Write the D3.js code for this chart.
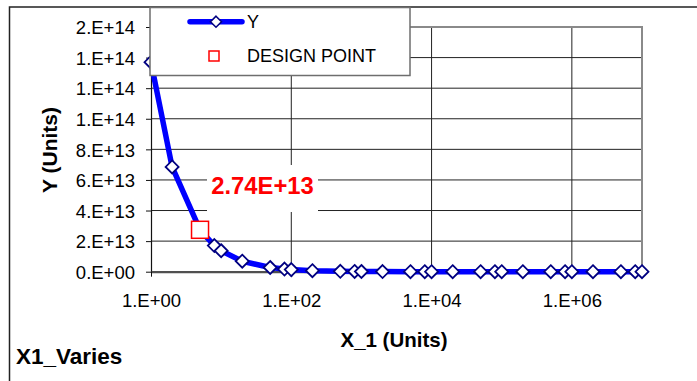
<!DOCTYPE html>
<html>
<head>
<meta charset="utf-8">
<script src="https://cdn.jsdelivr.net/npm/d3@7"></script>
<style>
  html, body { margin: 0; padding: 0; background: #fff; }
  svg { display: block; font-family: "Liberation Sans", Arial, sans-serif; }
</style>
</head>
<body>
<svg id="chart" width="697" height="381"></svg>
<script>
// X_1 sweep and the resulting Y response
const xValues = [1, 2, 5, 8, 10, 20, 50, 80, 100, 200, 500, 800,
  1e3, 2e3, 5e3, 8e3, 1e4, 2e4, 5e4, 8e4, 1e5, 2e5, 5e5, 8e5,
  1e6, 2e6, 5e6, 8e6, 1e7];
const yValues = [1.37e14, 6.85e13, 2.74e13, 1.71e13, 1.37e13, 6.85e12, 2.74e12, 1.71e12,
  1.37e12, 6.85e11, 2.74e11, 1.71e11, 1.37e11, 6.85e10, 2.74e10, 1.71e10,
  1.37e10, 6.85e9, 2.74e9, 1.71e9, 1.37e9, 6.85e8, 2.74e8, 1.71e8,
  1.37e8, 6.85e7, 2.74e7, 1.71e7, 1.37e7];

// Design point
const designX = [5];
const designY = [2.74e13];
const designLabel = ["2.74E+13"];

// Axis ticks
const xTickValues = [1, 1e2, 1e4, 1e6];
const xTickLabels = ["1.E+00", "1.E+02", "1.E+04", "1.E+06"];
const yTickValues = [0, 2e13, 4e13, 6e13, 8e13, 1e14, 1.2e14, 1.4e14, 1.6e14];
const yTickLabels = ["0.E+00", "2.E+13", "4.E+13", "6.E+13", "8.E+13", "1.E+14", "1.E+14", "1.E+14", "2.E+14"];

const seriesNames = ["Y", "DESIGN POINT"];

const svg = d3.select("#chart");
const plot = { left: 151, right: 642, top: 27, bottom: 271.7 };

const x = d3.scaleLog().domain([1, 1e7]).range([plot.left, plot.right]);
const y = d3.scaleLinear().domain([0, 1.6e14]).range([plot.bottom, plot.top]);

const font = "'Liberation Sans', Arial, sans-serif";

// outer chart frame
svg.append("rect")
  .attr("x", 9.5).attr("y", 7).attr("width", 700).attr("height", 400)
  .attr("fill", "#fff").attr("stroke", "#222").attr("stroke-width", 1.5);

// horizontal gridlines
svg.append("g").selectAll("line").data(yTickValues.slice(1, -1)).join("line")
  .attr("x1", plot.left).attr("x2", plot.right)
  .attr("y1", d => y(d)).attr("y2", d => y(d))
  .attr("stroke", "#222").attr("stroke-width", 1);

// vertical gridlines
svg.append("g").selectAll("line").data(xTickValues.slice(1)).join("line")
  .attr("x1", d => x(d)).attr("x2", d => x(d))
  .attr("y1", plot.top).attr("y2", plot.bottom)
  .attr("stroke", "#222").attr("stroke-width", 1);

// plot area border (top & right)
svg.append("path")
  .attr("d", `M${plot.left},${plot.top}H${plot.right}V${plot.bottom}`)
  .attr("fill", "none").attr("stroke", "#8a8a8a").attr("stroke-width", 2);

// y axis
const yAxis = d3.axisLeft(y).tickValues(yTickValues)
  .tickFormat((d, i) => yTickLabels[i]).tickSize(5).tickSizeOuter(0);
const gy = svg.append("g").attr("transform", `translate(${plot.left},0)`).call(yAxis);
gy.select(".domain").attr("stroke", "#111").attr("stroke-width", 1.2);
gy.selectAll(".tick line").attr("stroke", "#111");
gy.selectAll(".tick text").attr("font-family", font).attr("font-size", 18.5)
  .attr("fill", "#000").attr("x", -16).attr("dy", "0.36em");

// x axis
const xAxis = d3.axisBottom(x).tickValues(xTickValues)
  .tickFormat((d, i) => xTickLabels[i]).tickSize(5).tickSizeOuter(0);
const gx = svg.append("g").attr("transform", `translate(0,${plot.bottom})`).call(xAxis);
gx.select(".domain").attr("stroke", "#505050").attr("stroke-width", 2.2);
gx.selectAll(".tick line").attr("stroke", "#111");
gx.selectAll(".tick text").attr("font-family", font).attr("font-size", 18.5)
  .attr("fill", "#000").attr("y", 22).attr("dy", "0.71em");

// series line
const pts = xValues.map((v, i) => [x(v), y(yValues[i])]);
svg.append("path")
  .attr("d", d3.line()(pts))
  .attr("fill", "none").attr("stroke", "#0000ff").attr("stroke-width", 5.5)
  .attr("stroke-linejoin", "round").attr("stroke-linecap", "round");

// diamond markers
const diamond = s => `M0,${-s}L${s},0L0,${s}L${-s},0Z`;
svg.append("g").selectAll("path").data(pts).join("path")
  .attr("transform", d => `translate(${d[0]},${d[1]})`)
  .attr("d", diamond(6.5))
  .attr("fill", "#fff").attr("stroke", "#000080").attr("stroke-width", 1.8);

// design point square
svg.append("g").selectAll("rect").data(designX).join("rect")
  .attr("x", (d, i) => x(d) - 8.5).attr("y", (d, i) => y(designY[i]) - 8.5)
  .attr("width", 17).attr("height", 17)
  .attr("fill", "#fff").attr("stroke", "#ff0000").attr("stroke-width", 1.5);

// design value label with white background
svg.append("rect").attr("x", 207).attr("y", 165).attr("width", 111).attr("height", 47)
  .attr("fill", "#fff");
svg.append("text").attr("x", 262.5).attr("y", 194)
  .attr("text-anchor", "middle").attr("font-family", font)
  .attr("font-size", 23.8).attr("font-weight", "bold").attr("fill", "#ff0000")
  .text(designLabel[0]);

// legend
const lg = svg.append("g");
lg.append("rect").attr("x", 150).attr("y", 7.5).attr("width", 260).attr("height", 68)
  .attr("fill", "#fff").attr("stroke", "#6e6e6e").attr("stroke-width", 1.5);
lg.append("line").attr("x1", 190).attr("x2", 242).attr("y1", 21.7).attr("y2", 21.7)
  .attr("stroke", "#0000ff").attr("stroke-width", 5.5).attr("stroke-linecap", "round");
lg.append("path").attr("transform", "translate(216,21.7)").attr("d", diamond(5.5))
  .attr("fill", "#fff").attr("stroke", "#000080").attr("stroke-width", 1.6);
lg.append("rect").attr("x", 209).attr("y", 51).attr("width", 10).attr("height", 10)
  .attr("fill", "#fff").attr("stroke", "#ff0000").attr("stroke-width", 1.5);
lg.selectAll("text").data(seriesNames).join("text")
  .attr("x", 247).attr("y", (d, i) => [22, 56][i]).attr("dy", "0.36em")
  .attr("font-family", font).attr("font-size", 18).attr("fill", "#000")
  .text(d => d);

// axis titles
svg.append("text").attr("transform", "translate(57,150) rotate(-90)")
  .attr("text-anchor", "middle").attr("font-family", font)
  .attr("font-size", 21).attr("font-weight", "bold").text("Y (Units)");
svg.append("text").attr("x", 394).attr("y", 347)
  .attr("text-anchor", "middle").attr("font-family", font)
  .attr("font-size", 20.5).attr("font-weight", "bold").text("X_1 (Units)");
svg.append("text").attr("x", 16).attr("y", 364)
  .attr("font-family", font)
  .attr("font-size", 22.5).attr("font-weight", "bold").text("X1_Varies");
</script>
</body>
</html>
